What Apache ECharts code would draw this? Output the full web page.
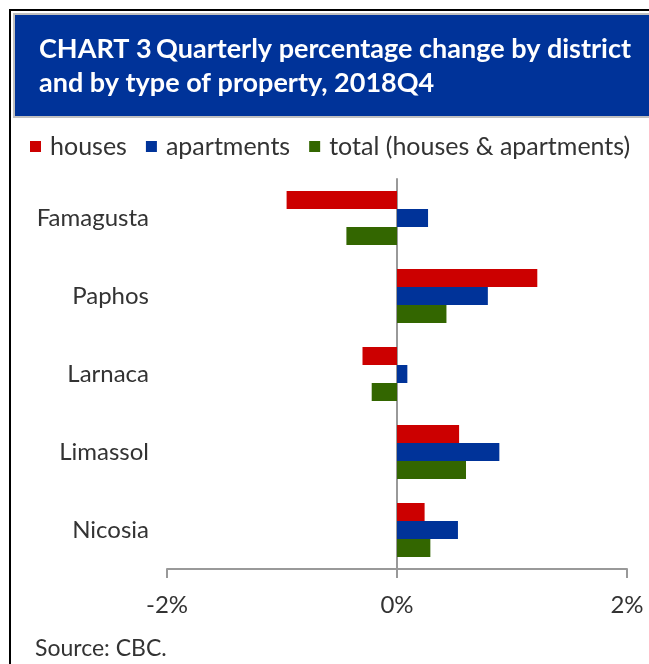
<!DOCTYPE html>
<html>
<head>
<meta charset="utf-8">
<script src="https://cdn.jsdelivr.net/npm/echarts@6/dist/echarts.min.js"></script>
<style>
  html, body { margin: 0; padding: 0; background: #fff; }
  #chart { width: 649px; height: 664px; }
</style>
</head>
<body>
<div id="chart"></div>
<script>
var districts = ['Famagusta', 'Paphos', 'Larnaca', 'Limassol', 'Nicosia'];
var houses = [-0.96, 1.22, -0.30, 0.54, 0.24];
var apartments = [0.27, 0.79, 0.09, 0.89, 0.53];
var total = [-0.44, 0.43, -0.22, 0.60, 0.29];
var xTicks = [-2, 0, 2];

var font = 'Lato';
var myChart = echarts.init(document.getElementById('chart'));
myChart.setOption({
    animation: false,
    textStyle: {fontFamily: font},
    title: {
        left: 34,
        top: 27,
        text: '{n|CHART 3} {b|Quarterly percentage change by district}\n{b|and by type of property, 2018Q4}',
        textStyle: {
            rich: {
                n: {color: '#fff', fontSize: 27, fontFamily: font, lineHeight: 34},
                b: {color: '#fff', fontSize: 27, fontWeight: 'bold', fontFamily: font, lineHeight: 34}
            }
        }
    },
    graphic: [
        {
            type: 'rect', silent: true, z: -10,
            shape: {x: 10, y: 10, width: 700, height: 700},
            style: {fill: 'none', stroke: '#000', lineWidth: 2}
        },
        {
            type: 'rect', silent: true, z: -9,
            shape: {x: 14, y: 14, width: 700, height: 103},
            style: {fill: '#003399', stroke: '#c0c0c0', lineWidth: 2}
        },
        {
            type: 'text', left: 35, top: 637,
            style: {text: 'Source: CBC.', fill: '#333', fontSize: 23, fontFamily: font}
        }
    ],
    legend: {
        left: 25,
        top: 129,
        icon: 'rect',
        itemWidth: 11,
        itemHeight: 11,
        itemGap: 19,
        textStyle: {fontSize: 25, color: '#333', fontFamily: font, padding: [0, 0, 0, 4]},
        data: ['houses', 'apartments', 'total (houses & apartments)']
    },
    grid: {left: 167, right: 22, top: 179, bottom: 95, containLabel: false},
    xAxis: {
        type: 'value',
        min: -2,
        max: 2,
        interval: 2,
        splitLine: {show: false},
        axisLine: {show: true, lineStyle: {color: '#999', width: 2}},
        axisTick: {show: true, length: 9, lineStyle: {color: '#999', width: 2}},
        axisLabel: {
            margin: 24,
            fontSize: 24,
            color: '#333',
            formatter: function (v) { return v + '%'; }
        }
    },
    yAxis: [
        {
            type: 'category',
            inverse: true,
            data: districts,
            axisLine: {onZero: true, lineStyle: {color: '#999', width: 2}},
            axisTick: {length: 9, lineStyle: {color: '#999', width: 2}},
            axisLabel: {show: false}
        },
        {
            type: 'category',
            inverse: true,
            position: 'left',
            data: districts,
            axisLine: {show: false, onZero: false},
            axisTick: {show: false},
            axisLabel: {margin: 18, fontSize: 24, color: '#333'}
        }
    ],
    series: [
        {name: 'houses', type: 'bar', barWidth: 18, barGap: '0%', data: houses, itemStyle: {color: '#cc0000'}},
        {name: 'apartments', type: 'bar', barWidth: 18, barGap: '0%', data: apartments, itemStyle: {color: '#003399'}},
        {name: 'total (houses & apartments)', type: 'bar', barWidth: 18, barGap: '0%', data: total, itemStyle: {color: '#336600'}}
    ]
});
</script>
</body>
</html>
